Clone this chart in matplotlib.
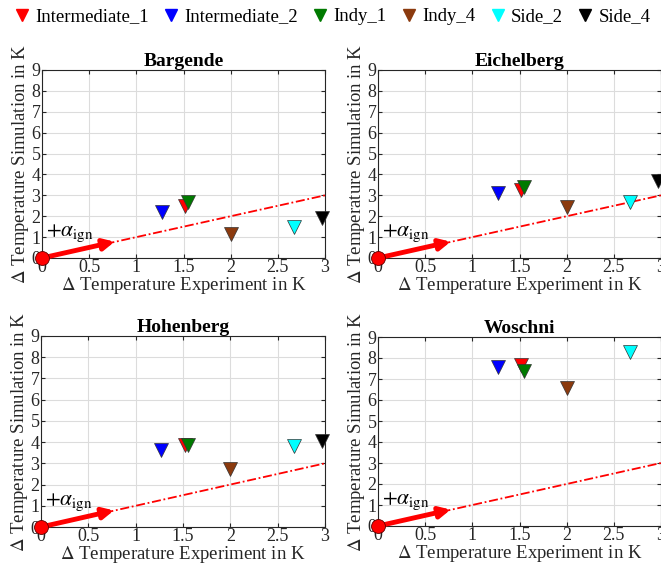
import numpy as np
import matplotlib
matplotlib.use("Agg")
import matplotlib.pyplot as plt
from matplotlib.lines import Line2D

plt.rcParams['font.family'] = ['Liberation Serif', 'DejaVu Serif']
plt.rcParams['mathtext.fontset'] = 'stix'

series = ["Intermediate_1", "Intermediate_2", "Indy_1", "Indy_4", "Side_2", "Side_4"]
colors = ["#ff0000", "#0000ff", "#007a00", "#8b3a0e", "#00ffff", "#000000"]

# measured temperature rise per operating point (x) and simulated rise per model (y)
dT_exp = [1.52, 1.27, 1.55, 2.00, 2.67, 2.97]
models = ["Bargende", "Eichelberg", "Hohenberg", "Woschni"]
dT_bargende = [2.47, 2.22, 2.67, 1.15, 1.48, 1.90]
dT_eichelberg = [3.24, 3.13, 3.42, 2.42, 2.69, 3.68]
dT_hohenberg = [3.85, 3.62, 3.85, 2.75, 3.82, 4.06]
dT_woschni = [7.65, 7.57, 7.38, 6.59, 8.29, 9.60]
dT_sim = [dT_bargende, dT_eichelberg, dT_hohenberg, dT_woschni]

x_ticks = [0, 0.5, 1, 1.5, 2, 2.5, 3]
y_ticks = list(range(0, 10))

W, H = 661, 572
fig = plt.figure(figsize=(W / 100, H / 100), dpi=100)

boxes = [(42, 70, 283, 188), (378, 70, 283, 188),
         (41, 336, 284, 191), (378, 337, 283, 189)]

tick_col = "#262626"
for name, sim, (l, t, w, h) in zip(models, dT_sim, boxes):
    ax = fig.add_axes([l / W, (H - t - h) / H, w / W, h / H])
    ax.set_xlim(0, 3)
    ax.set_ylim(0, 9)
    ax.set_xticks(x_ticks)
    ax.set_xticklabels([f"{v:g}" for v in x_ticks])
    ax.set_yticks(y_ticks)
    ax.grid(True, color="#dcdcdc", lw=0.8)
    ax.set_axisbelow(True)
    ax.tick_params(direction="in", length=3, colors=tick_col, labelsize=13,
                   pad=1, top=True, right=True)
    for sp in ax.spines.values():
        sp.set_color(tick_col)
        sp.set_linewidth(0.8)
    ax.set_title(name, fontsize=14, fontweight="bold", pad=3)
    ax.set_xlabel(r"$\Delta$ Temperature Experiment in K", fontsize=13.5,
                  color=tick_col, labelpad=-1)
    ax.set_ylabel(r"$\Delta$ Temperature Simulation in K", fontsize=13.5,
                  color=tick_col, labelpad=0)

    # reference line y = x
    ax.plot([0, 3], [0, 3], color="red", ls=(0, (5, 1.5, 1, 1.5)), lw=1.3,
            clip_on=False, zorder=2)
    ax.annotate("", xy=(0.77, 0.78), xytext=(0, 0),
                arrowprops=dict(arrowstyle="-|>", color="red", lw=3.5,
                                mutation_scale=16, shrinkA=0, shrinkB=0),
                zorder=3)
    ax.plot([0], [0], "o", ms=10, mfc="red", mec="#600000", mew=0.6,
            clip_on=False, zorder=5)
    ax.text(0.04, 1.05, r"$+\alpha_{\mathrm{ign}}$", fontsize=15.5, zorder=4)

    for xv, yv, c in zip(dT_exp, sim, colors):
        if yv > 9:
            continue
        ax.plot([xv], [yv], "v", ms=10, mfc=c, mec="#333333", mew=0.5,
                clip_on=False, zorder=6)

handles = [Line2D([], [], ls="none", marker="v", ms=8, mfc=c, mec=c)
           for c in colors]
fig.legend(handles, series, loc="upper center", bbox_to_anchor=(0.5, 1.015),
           ncol=6, frameon=False, fontsize=13.5, handletextpad=0.1,
           columnspacing=0.6, handlelength=1.2)

fig.savefig("out.png", dpi=100)
